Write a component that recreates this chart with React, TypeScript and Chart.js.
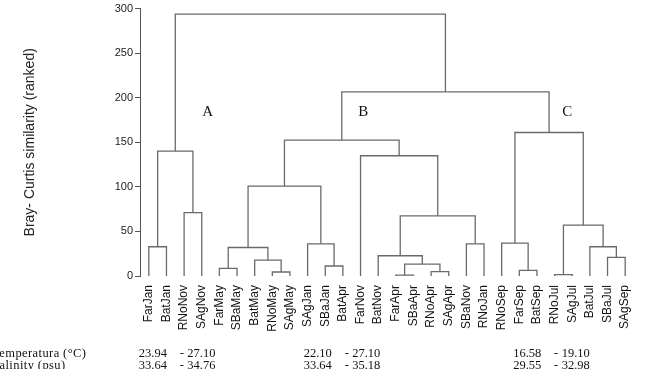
import React, { useEffect, useRef } from 'react';
import { Chart, registerables } from 'chart.js';

Chart.register(...registerables);

// Leaves (x-axis categories), left to right
const leafLabels = [
  'FarJan', 'BatJan', 'RNoNov', 'SAgNov', 'FarMay', 'SBaMay', 'BatMay', 'RNoMay', 'SAgMay',
  'SAgJan', 'SBaJan', 'BatApr', 'FarNov', 'BatNov', 'FarApr', 'SBaApr', 'RNoApr', 'SAgApr',
  'SBaNov', 'RNoJan', 'RNoSep', 'FarSep', 'BatSep', 'RNoJul', 'SAgJul', 'BatJul', 'SBaJul', 'SAgSep',
];

// Merge steps: node ids 0..27 are leaves, merge k creates node 28+k
const mergeLeft = [14, 23, 7, 16, 21, 4, 10, 28, 6, 26, 13, 33, 0, 25, 9, 18, 20, 29, 38, 2, 39, 12, 40, 48, 44, 51, 50];
const mergeRight = [15, 24, 8, 17, 22, 5, 11, 31, 30, 27, 35, 36, 1, 37, 34, 19, 32, 41, 43, 3, 42, 46, 47, 49, 45, 52, 53];
const mergeHeight = [1, 1.5, 4.5, 4.8, 6.3, 8.5, 11.2, 13.4, 17.9, 20.8, 22.7, 32, 32.8, 32.8, 36.1, 36.1, 36.9, 57, 67.5, 71.2, 100.8, 134.9, 140.2, 152.5, 161, 206.5, 293.7];

// Y ticks
const yTicks = [0, 50, 100, 150, 200, 250, 300];

// Group annotations
const groupNames = ['A', 'B', 'C'];
const groupTemp = ['23.94', '27.10', '22.10', '27.10', '16.58', '19.10'];
const groupSal = ['33.64', '34.76', '33.64', '35.18', '29.55', '32.98'];
const rowLabels = ['Temperatura (°C)', 'Salinity (psu)'];

// placement of annotations (in data units)
const groupNamePos = [3.33, 12.16, 23.72];
const groupNameY = 184;
const groupRangeStart = [-0.57, 8.78, 20.65];

function buildDatasets() {
  const pos: number[] = leafLabels.map((_, i) => i);
  const h: number[] = leafLabels.map(() => 0);
  const ds: any[] = [];
  mergeLeft.forEach((l, k) => {
    const r = mergeRight[k];
    const hk = mergeHeight[k];
    ds.push({
      data: [
        { x: pos[l], y: h[l] },
        { x: pos[l], y: hk },
        { x: pos[r], y: hk },
        { x: pos[r], y: h[r] },
      ],
      showLine: true,
      borderColor: '#6a6a6a',
      borderWidth: 1.3,
      pointRadius: 0,
      tension: 0,
      fill: false,
    });
    pos.push((pos[l] + pos[r]) / 2);
    h.push(hk);
  });
  return ds;
}

const annotations = {
  id: 'annotations',
  afterDraw(chart: any) {
    const { ctx, scales } = chart;
    const xs = scales.x;
    const ys = scales.y;
    ctx.save();
    ctx.fillStyle = '#111';
    ctx.font = '15px "Liberation Serif", serif';
    ctx.textAlign = 'center';
    ctx.textBaseline = 'middle';
    groupNames.forEach((g, i) => {
      ctx.fillText(g, xs.getPixelForValue(groupNamePos[i]), ys.getPixelForValue(groupNameY));
    });
    ctx.font = '12.5px "Liberation Serif", serif';
    ctx.textBaseline = 'alphabetic';
    const rows = [groupTemp, groupSal];
    const baselines = [357, 369];
    rows.forEach((row, ri) => {
      ctx.textAlign = 'left';
      (ctx as any).letterSpacing = '0.4px';
      ctx.fillText(rowLabels[ri], -7.8, baselines[ri]);
      (ctx as any).letterSpacing = '0px';
      groupRangeStart.forEach((s, gi) => {
        const x0 = xs.getPixelForValue(s);
        ctx.textAlign = 'left';
        ctx.fillText(row[gi * 2], x0, baselines[ri]);
        ctx.textAlign = 'center';
        ctx.fillText('-', x0 + 43, baselines[ri]);
        ctx.textAlign = 'left';
        ctx.fillText(row[gi * 2 + 1], x0 + 48.5, baselines[ri]);
      });
    });
    ctx.restore();
  },
};

export default function App() {
  const ref = useRef<HTMLCanvasElement>(null);
  useEffect(() => {
    if (!ref.current) return;
    const chart = new Chart(ref.current, {
      type: 'scatter',
      data: { datasets: buildDatasets() },
      options: {
        animation: false,
        responsive: false,
        layout: { padding: { left: 18, right: 27, top: 8, bottom: 0 } },
        plugins: { legend: { display: false }, tooltip: { enabled: false } },
        scales: {
          x: {
            type: 'linear',
            min: -0.5,
            max: 27.5,
            afterBuildTicks: (scale: any) => {
              scale.ticks = leafLabels.map((_, i) => ({ value: i }));
            },
            afterFit: (scale: any) => {
              scale.height = 93;
            },
            ticks: {
              autoSkip: false,
              minRotation: 90,
              maxRotation: 90,
              padding: 1,
              color: '#111',
              font: { family: '"Liberation Sans", Arial, sans-serif', size: 12 },
              callback: (v: any) => leafLabels[Math.round(v)] ?? '',
            },
            grid: { display: false },
            border: { display: false },
          },
          y: {
            min: 0,
            max: 300,
            afterBuildTicks: (scale: any) => {
              scale.ticks = yTicks.map((v) => ({ value: v }));
            },
            afterFit: (scale: any) => {
              scale.width = 122;
            },
            ticks: {
              padding: 2,
              color: '#222',
              font: { family: '"Liberation Sans", Arial, sans-serif', size: 11 },
            },
            grid: { drawOnChartArea: false, drawTicks: true, tickLength: 5, color: '#555' },
            border: { display: true, color: '#555', width: 1 },
            title: {
              display: true,
              text: 'Bray- Curtis similarity (ranked)',
              color: '#222',
              font: { family: '"Liberation Sans", Arial, sans-serif', size: 14 },
            },
          },
        },
      },
      plugins: [annotations],
    });
    return () => chart.destroy();
  }, []);
  return (
    <div style={{ position: 'fixed', left: 0, top: 0, width: 661, height: 369, background: '#fff' }}>
      <canvas ref={ref} width={661} height={369} />
    </div>
  );
}
